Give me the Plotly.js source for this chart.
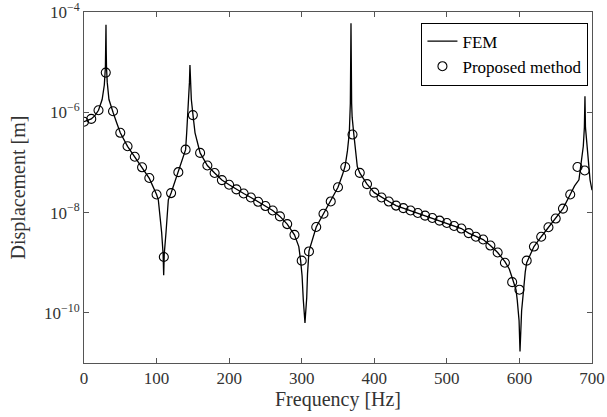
<!DOCTYPE html>
<html>
<head>
<meta charset="utf-8">
<script src="https://cdn.plot.ly/plotly-3.0.1.min.js"></script>
<style>html,body{margin:0;padding:0;background:#fff;}#chart{width:607px;height:417px;}</style>
</head>
<body>
<div id="chart"></div>
<script>
// FEM reference curve (frequency in Hz, displacement in m)
const femFreq = [0, 5, 10, 15, 20, 25, 28, 29.5, 30, 30.3, 30.6, 31, 32, 34.4, 37, 40, 45, 50, 60, 70, 80, 90, 100,
  102.4, 107, 109, 109.8, 110.6, 113, 116.2, 120, 130, 140, 141.5, 144.3, 145.3, 146, 146.5, 147.9, 150.5, 153, 160,
  170, 180, 190, 200, 210, 220, 230, 240, 250, 260, 270, 280, 290, 296, 298.5, 300.5, 302.2, 303.8, 304.5, 305.2,
  306.9, 308, 310, 320, 330, 340, 350, 356, 359.7, 363, 365.6, 367, 367.9, 368.8, 369.5, 371.6, 376.6, 380, 390, 400,
  410, 420, 430, 440, 450, 460, 470, 480, 490, 500, 510, 520, 530, 540, 550, 560, 570, 580, 586, 590, 595.3, 597,
  599.5, 600.8, 602, 603, 604.4, 605.4, 608, 610, 620, 630, 640, 650, 660, 670, 676, 682, 685.5, 688, 689.5, 690.3,
  691, 693.6, 697.3, 700];
const femDisp = [6.5e-7, 6.9e-7, 7.4e-7, 8.6e-7, 1.1e-6, 1.8e-6, 3.5e-6, 8e-6, 1.8e-5, 5.6e-5, 1.8e-5, 8e-6, 4e-6, 1.8e-6, 1.3e-6, 1.0e-6, 6.2e-7, 3.9e-7, 2.1e-7, 1.3e-7, 8.0e-8, 4.8e-8, 2.3e-8,
  1.8e-8, 4e-9, 1.5e-9, 5.6e-10, 1.5e-9, 4e-9, 1.8e-8, 2.45e-8, 6.4e-8, 1.8e-7, 3.9e-7, 1.8e-6, 4e-6, 8.8e-6, 4e-6, 1.8e-6, 8e-7, 3.9e-7, 1.55e-7,
  8.7e-8, 6.15e-8, 4.45e-8, 3.6e-8, 2.9e-8, 2.4e-8, 2.0e-8, 1.64e-8, 1.35e-8, 1.1e-8, 8.4e-9, 5.9e-9, 3.6e-9, 2.1e-9, 1.1e-9, 5.5e-10, 1.8e-10, 9e-11, 6.3e-11, 9e-11,
  2.0e-10, 6e-10, 1.7e-9, 5.15e-9, 9.5e-9, 1.67e-8, 3.2e-8, 5.6e-8, 8.3e-8, 1.7e-7, 3.9e-7, 1.5e-6, 6e-5, 1.5e-6, 8e-7, 3.9e-7, 8.3e-8, 6.2e-8, 3.7e-8, 2.5e-8,
  2.0e-8, 1.66e-8, 1.38e-8, 1.23e-8, 1.1e-8, 9.8e-9, 8.7e-9, 7.8e-9, 6.9e-9, 6.2e-9, 5.4e-9, 4.8e-9, 3.9e-9, 3.3e-9, 2.9e-9, 2.2e-9, 1.6e-9, 1.05e-9, 7.5e-10, 5e-10, 2.9e-10, 1.8e-10,
  7e-11, 1.7e-11, 6e-11, 1.1e-10, 1.8e-10, 2.9e-10, 6.5e-10, 1.0e-9, 2.1e-9, 3.3e-9, 5.1e-9, 7.6e-9, 1.2e-8, 2.3e-8, 3.4e-8, 4.5e-8, 1.0e-7, 2.1e-7, 5e-7, 2.1e-6,
  5e-7, 2.1e-7, 4.5e-8, 2.8e-8];

// Proposed method samples (every 10 Hz)
const pmFreq = [0, 10, 20, 30, 40, 50, 60, 70, 80, 90, 100, 110, 120, 130, 140, 150, 160, 170, 180, 190,
  200, 210, 220, 230, 240, 250, 260, 270, 280, 290, 300, 310, 320, 330, 340, 350, 360, 370, 380, 390,
  400, 410, 420, 430, 440, 450, 460, 470, 480, 490, 500, 510, 520, 530, 540, 550, 560, 570, 580, 590,
  600, 610, 620, 630, 640, 650, 660, 670, 680, 690];
const pmDisp = [6.5e-7, 7.4e-7, 1.1e-6, 6.2e-6, 1.05e-6, 3.9e-7, 2.1e-7, 1.3e-7, 8.0e-8, 4.9e-8, 2.3e-8, 1.3e-9, 2.45e-8, 6.4e-8, 1.8e-7, 8.8e-7, 1.55e-7, 8.7e-8, 6.15e-8, 4.45e-8,
  3.6e-8, 2.9e-8, 2.4e-8, 2.0e-8, 1.64e-8, 1.35e-8, 1.1e-8, 8.4e-9, 5.9e-9, 3.6e-9, 1.1e-9, 1.68e-9, 5.15e-9, 9.5e-9, 1.67e-8, 3.2e-8, 8.1e-8, 3.6e-7, 6.2e-8, 3.7e-8,
  2.5e-8, 2.0e-8, 1.66e-8, 1.38e-8, 1.23e-8, 1.1e-8, 9.8e-9, 8.7e-9, 7.8e-9, 6.9e-9, 6.2e-9, 5.4e-9, 4.8e-9, 3.9e-9, 3.3e-9, 2.9e-9, 2.2e-9, 1.6e-9, 1.0e-9, 4.1e-10,
  2.9e-10, 1.1e-9, 2.1e-9, 3.3e-9, 5.1e-9, 7.6e-9, 1.2e-8, 2.3e-8, 8.1e-8, 6.9e-8];

const xTicks = [0, 100, 200, 300, 400, 500, 600, 700];
const yTickVals = [1e-10, 1e-8, 1e-6, 1e-4];
const yTickText = ['10<sup>\u221210</sup>', '10<sup>\u22128</sup>', '10<sup>\u22126</sup>', '10<sup>\u22124</sup>'];
const seriesNames = ['FEM', 'Proposed method'];

const FONT = 'Liberation Serif, Times New Roman, serif';
const traces = [
  {x: femFreq, y: femDisp, type: 'scatter', mode: 'lines', name: seriesNames[0],
   line: {color: '#000', width: 1.3}},
  {x: pmFreq, y: pmDisp, type: 'scatter', mode: 'markers', name: seriesNames[1],
   marker: {symbol: 'circle-open', size: 9, color: '#000', line: {width: 1.1, color: '#000'}}}
];
const axisCommon = {
  showline: true, linecolor: '#555', linewidth: 1, mirror: 'ticks',
  ticks: 'inside', ticklen: 5, tickcolor: '#555', tickwidth: 1,
  showgrid: false, zeroline: false, ticklabeloverflow: 'allow',
  tickfont: {family: FONT, size: 17, color: '#333'}
};
const layout = {
  width: 607, height: 417,
  margin: {l: 84, r: 15, t: 12, b: 54},
  paper_bgcolor: '#fff', plot_bgcolor: '#fff',
  showlegend: true,
  font: {family: FONT, color: '#222'},
  xaxis: Object.assign({}, axisCommon, {
    range: [0, 700], tickvals: xTicks, ticktext: xTicks.map(String),
    title: {text: 'Frequency [Hz]', font: {family: FONT, size: 20, color: '#333'}, standoff: 4}
  }),
  yaxis: Object.assign({}, axisCommon, {
    type: 'log', range: [-11, -3.999], tickvals: yTickVals, ticktext: yTickText,
    title: {text: 'Displacement [m]', font: {family: FONT, size: 20, color: '#333'}, standoff: 12}
  }),
  legend: {
    x: 0.993, xanchor: 'right', y: 0.97, yanchor: 'top',
    bgcolor: '#fff', bordercolor: '#000', borderwidth: 1,
    font: {family: FONT, size: 17, color: '#000'},
    itemwidth: 30, tracegroupgap: 0
  }
};
Plotly.newPlot('chart', traces, layout, {staticPlot: true, displayModeBar: false});
</script>
</body>
</html>
